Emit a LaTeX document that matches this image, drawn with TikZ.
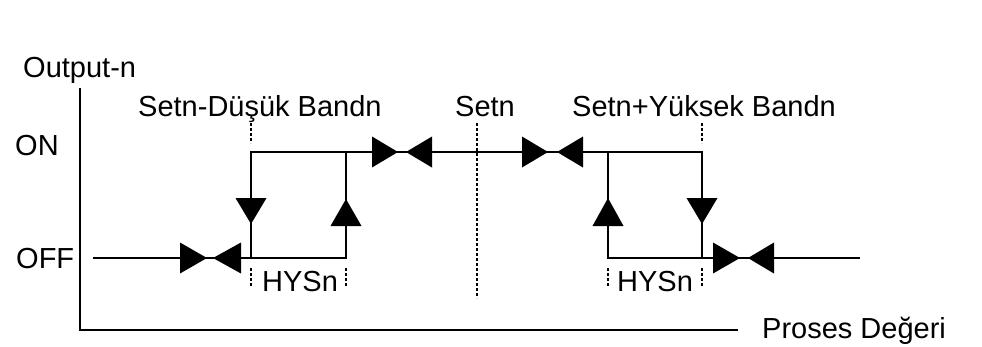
\documentclass[tikz,border=0pt]{standalone}
\usepackage{fontspec}
\setmainfont{Liberation Sans}
\begin{document}
\begin{tikzpicture}[x=1pt,y=-1pt,
  lbl/.style={font=\fontsize{29}{34}\selectfont, inner sep=0pt, anchor=base west},
  sol/.style={line width=2pt, line join=miter},
  dsh/.style={line width=1.8pt, dash pattern=on 3pt off 2pt},
  ax/.style={line width=1.8pt},
  tri/.style={fill=black}]
\useasboundingbox (0,0) rectangle (982,346);
\fill[white] (0,0) rectangle (982,346);
% axes
\coordinate (axtop) at (80,88);
\coordinate (orig) at (80,330);
\coordinate (axend) at (738,330);
\draw[ax] (axtop) -- (orig) -- (axend);
% characteristic
\coordinate (offS) at (93,258);
\coordinate (offE) at (860,258);
\coordinate (L1) at (251,152);
\coordinate (L2) at (346,152);
\coordinate (L3) at (251,258);
\coordinate (L4) at (346,258);
\coordinate (R1) at (608,152);
\coordinate (R2) at (702,152);
\coordinate (R3) at (608,258);
\coordinate (R4) at (702,258);
\draw[sol] (offS) -- (L4) -- (L2);
\draw[sol] (L3) -- (L1) -- (R2) -- (R4) -- (offE);
\draw[sol] (R1) -- (R3) -- (R4);
% dashed markers
\coordinate (dl1) at (251,123); \coordinate (dl2) at (251,143);
\coordinate (ds1) at (477,123); \coordinate (ds2) at (477,298);
\coordinate (dr1) at (702,123); \coordinate (dr2) at (702,143);
\draw[dsh] (dl1) -- (dl2);
\draw[dsh] (ds1) -- (ds2);
\draw[dsh] (dr1) -- (dr2);
\foreach \x in {251,346,608,702}{\draw[dsh] (\x,268) -- (\x,287);}
% horizontal bow ties
\fill[tri] (398,152) -- (372,136.5) -- (372,167.5) -- cycle;
\fill[tri] (406,152) -- (432,136.5) -- (432,167.5) -- cycle;
\fill[tri] (548,152) -- (522,136.5) -- (522,167.5) -- cycle;
\fill[tri] (557,152) -- (583,136.5) -- (583,167.5) -- cycle;
\fill[tri] (207,258) -- (180,242.5) -- (180,273.5) -- cycle;
\fill[tri] (213,258) -- (241,242.5) -- (241,273.5) -- cycle;
\fill[tri] (740,258) -- (713,242.5) -- (713,273.5) -- cycle;
\fill[tri] (748,258) -- (774,242.5) -- (774,273.5) -- cycle;
% vertical arrows
\fill[tri] (251,224) -- (235.5,198) -- (266.5,198) -- cycle;
\fill[tri] (346,199) -- (330.5,226) -- (361.5,226) -- cycle;
\fill[tri] (608,198) -- (592.5,226) -- (623.5,226) -- cycle;
\fill[tri] (702,224) -- (686.5,198) -- (717.5,198) -- cycle;
% labels
\node[lbl] (tOut) at (23,77) {Output-n};
\node[lbl] (tOn) at (15,155) {ON};
\node[lbl] (tOff) at (16,268) {OFF};
\node[lbl] (tLow) at (138,116) {Setn-Düşük Bandn};
\node[lbl] (tSet) at (455,116) {Setn};
\node[lbl] (tHigh) at (572,116) {Setn+Yüksek Bandn};
\node[lbl] (tH1) at (262,291) {HYSn};
\node[lbl] (tH2) at (617,291) {HYSn};
\node[lbl] (tPV) at (762,338) {Proses Değeri};
\end{tikzpicture}
\end{document}
